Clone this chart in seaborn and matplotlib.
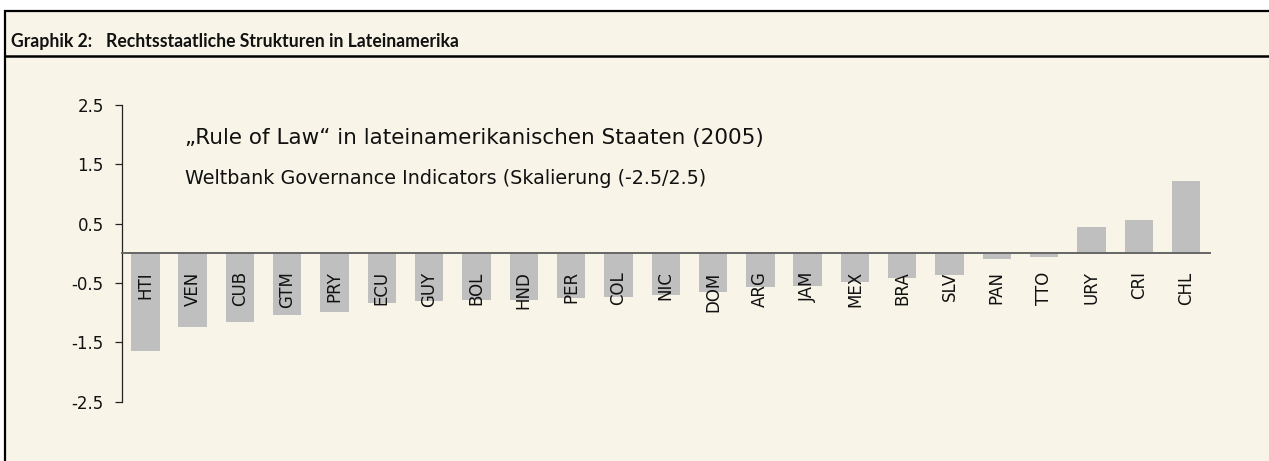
import matplotlib
matplotlib.use("Agg")
import matplotlib.pyplot as plt
import pandas as pd
import seaborn as sns
from matplotlib.patches import Rectangle
from matplotlib.lines import Line2D

countries = ['HTI', 'VEN', 'CUB', 'GTM', 'PRY', 'ECU', 'GUY', 'BOL', 'HND', 'PER', 'COL', 'NIC',
             'DOM', 'ARG', 'JAM', 'MEX', 'BRA', 'SLV', 'PAN', 'TTO', 'URY', 'CRI', 'CHL']
rule_of_law = [-1.64, -1.24, -1.15, -1.04, -0.99, -0.83, -0.80, -0.79, -0.79, -0.76, -0.73, -0.70,
               -0.66, -0.57, -0.55, -0.48, -0.41, -0.36, -0.09, -0.07, 0.44, 0.56, 1.22]
y_ticks = [2.5, 1.5, 0.5, -0.5, -1.5, -2.5]

df = pd.DataFrame({'Land': countries, 'Wert': rule_of_law})

W, H = 1269, 461
cream = '#F8F5E8'

sns.set_theme(style='white')
plt.rcParams['font.family'] = ['DejaVu Sans']
plt.rcParams['text.color'] = '#111111'

fig = plt.figure(figsize=(W / 100, H / 100), dpi=100, facecolor='white')

# frame + header
fig.patches.append(Rectangle((4.5 / W, -0.01), 1.0, 1 - 11.5 / H + 0.01, transform=fig.transFigure,
                             facecolor=cream, edgecolor='black', linewidth=1.6, zorder=-5))
fig.lines.append(Line2D([4.5 / W, 1.0], [1 - 56 / H, 1 - 56 / H], transform=fig.transFigure,
                        color='black', linewidth=1.8, zorder=-4))
hdr_font = ['Lato', 'DejaVu Sans']
fig.text(11 / W, 1 - 47 / H, 'Graphik 2:', fontsize=12.7, fontweight='bold', family=hdr_font,
         va='baseline')
fig.text(106 / W, 1 - 47 / H, 'Rechtsstaatliche Strukturen in Lateinamerika', fontsize=12.7,
         fontweight='bold', family=hdr_font, va='baseline')

ax = fig.add_axes([121.7 / W, 1 - 401.7 / H, 1088 / W, 297 / H])
ax.set_facecolor('none')

sns.barplot(data=df, x='Land', y='Wert', color='#BFBFBF', saturation=1, width=0.6,
            linewidth=0, ax=ax)

ax.set_xlim(-0.5, len(countries) - 0.5)
ax.set_ylim(-2.5, 2.5)
ax.set_yticks(y_ticks)
ax.set_yticklabels([str(v) for v in y_ticks])
ax.set_xlabel('')
ax.set_ylabel('')
ax.set_axisbelow(False)

for s in ['top', 'right']:
    ax.spines[s].set_visible(False)
ax.spines['bottom'].set_position(('data', 0))
ax.spines['bottom'].set_color('#666666')
ax.spines['bottom'].set_linewidth(1.4)
ax.spines['left'].set_color('#222222')
ax.spines['left'].set_linewidth(0.9)

ax.tick_params(axis='y', direction='out', length=5, width=0.9, color='#222222', pad=8,
               labelsize=12, left=True, labelcolor='#111111')
ax.tick_params(axis='x', length=0, pad=13, labelsize=12, rotation=90, labelcolor='#111111')

fig.text(185 / W, 1 - 144.3 / H, '\u201eRule of Law\u201c in lateinamerikanischen Staaten (2005)',
         fontsize=15.5, va='baseline')
fig.text(185 / W, 1 - 184 / H, 'Weltbank Governance Indicators (Skalierung (-2.5/2.5)',
         fontsize=13.8, va='baseline')

fig.savefig('out.png', dpi=100, facecolor='white')
